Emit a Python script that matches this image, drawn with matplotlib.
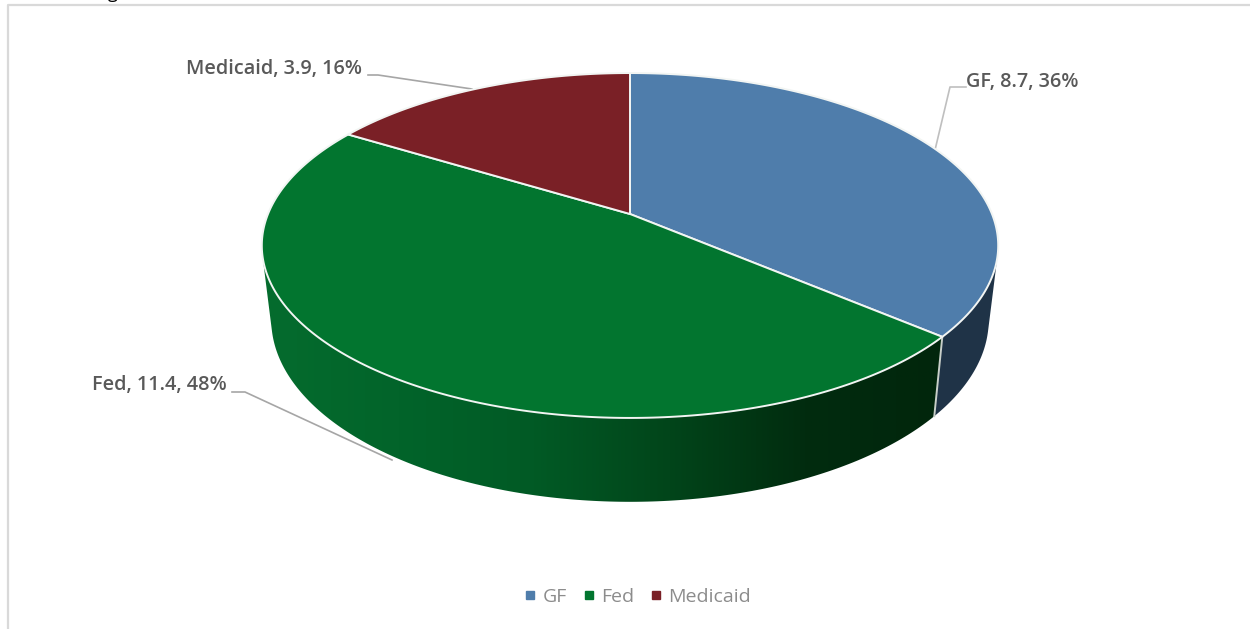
import numpy as np
import matplotlib
matplotlib.use("Agg")
import matplotlib.pyplot as plt
from matplotlib.colors import LinearSegmentedColormap
from matplotlib.lines import Line2D
from matplotlib.patches import Polygon

# data
names = ["GF", "Fed", "Medicaid"]
values = [8.7, 11.4, 3.9]
percents = [36, 48, 16]
top_colors = ["#4f7dab", "#02752f", "#7a2026"]
side_colors = ["#1f3347", None, "#4c1418"]

plt.rcParams["font.family"] = ["Open Sans", "DejaVu Sans"]
TEXT = "#595959"


# perspective disc, angle runs clockwise from 12 o'clock
def top_disc(t):
    w = 1 + 0.1826 * np.cos(t)
    return 630 + 362 * np.sin(t) / w, 214 - 166.7 * np.cos(t) / w


def low_disc(t):
    w = 1 + 0.1826 * np.cos(t)
    return 630 + 352.7 * np.sin(t) / w, 286.5 - 176 * np.cos(t) / w


# convex outline, so the side also fills the gap below the widest point of the top
def hull(points):
    points = sorted(set(map(tuple, np.round(points, 2))))

    def half(seq):
        out = []
        for p in seq:
            while len(out) > 1:
                a, b = out[-2], out[-1]
                if (b[0] - a[0]) * (p[1] - a[1]) - (b[1] - a[1]) * (p[0] - a[0]) > 0:
                    break
                out.pop()
            out.append(p)
        return out[:-1]

    return np.array(half(points) + half(points[::-1]))


fig = plt.figure(figsize=(12.5, 6.29), dpi=100)
ax = fig.add_axes([0, 0, 1, 1])
ax.set_xlim(0, 1250)
ax.set_ylim(629, 0)
ax.axis("off")

# page frame
ax.plot([8, 8, 1250], [629, 5, 5], color="#d9d9d9", lw=1.6, zorder=1)
ax.text(113, -7.5, "g", fontsize=13, color="black", ha="center", va="center", zorder=1)

edges = np.cumsum([0] + values) / sum(values) * 2 * np.pi
green = LinearSegmentedColormap.from_list(
    "side", ["#056c2e", "#02642a", "#015a25", "#01451a", "#012c0f", "#01260c"])

# sides first, Fed goes last because its side covers the others
for i in [0, 2, 1]:
    t = np.linspace(edges[i], edges[i + 1], 240)
    tx, ty = top_disc(t)
    bx, by = low_disc(t)
    pts = hull(np.column_stack([np.r_[tx, bx], np.r_[ty, by]]))
    if side_colors[i] is None:
        poly = Polygon(pts, closed=True, fc="none", ec="none")
        ax.add_patch(poly)
        im = ax.imshow(np.linspace(0, 1, 256).reshape(1, -1), cmap=green, aspect="auto",
                       extent=[262, 942, 510, 230], zorder=2)
        im.set_clip_path(poly)
    else:
        ax.add_patch(Polygon(pts, closed=True, fc=side_colors[i], ec="none", zorder=2))

ax.set_xlim(0, 1250)
ax.set_ylim(629, 0)

# edge between GF and Fed on the side
sx, sy = top_disc(edges[1])
ex, ey = low_disc(edges[1])
ax.plot([sx, ex], [sy, ey], color="#c8cfc9", lw=1.4, zorder=3)

# top face
for i in range(len(values)):
    t = np.linspace(edges[i], edges[i + 1], 240)
    tx, ty = top_disc(t)
    pts = np.column_stack([np.r_[630, tx], np.r_[214, ty]])
    ax.add_patch(Polygon(pts, closed=True, fc=top_colors[i], ec="#f2f5f3", lw=1.4,
                         joinstyle="round", zorder=4))

# leader lines
ax.plot([966, 950, 935], [87, 87, 150], color="#bfbfbf", lw=1.2, zorder=3)
ax.plot([368, 378, 472], [75, 75, 89], color="#a6a6a6", lw=1.2, zorder=3)
ax.plot([232, 245, 392], [392, 392, 460], color="#a6a6a6", lw=1.2, zorder=3)

# data labels
spots = [(966, 82), (92, 385), (186, 69)]
for n, v, p, (x, y) in zip(names, values, percents, spots):
    ax.text(x, y, f"{n}, {v}, {p}%", color=TEXT, fontsize=14.3, fontweight="semibold",
            ha="left", va="center", zorder=5)

handles = [Line2D([], [], ls="none", marker="s", ms=5.5, color=c) for c in top_colors]
ax.legend(handles, names, loc="center", bbox_to_anchor=(636 / 1250, 1 - 597 / 629), ncol=3,
          frameon=False, fontsize=14, labelcolor="#8c8c8c", handletextpad=0.15,
          columnspacing=0.6, handlelength=1.0)

fig.savefig("out.png", dpi=100)
